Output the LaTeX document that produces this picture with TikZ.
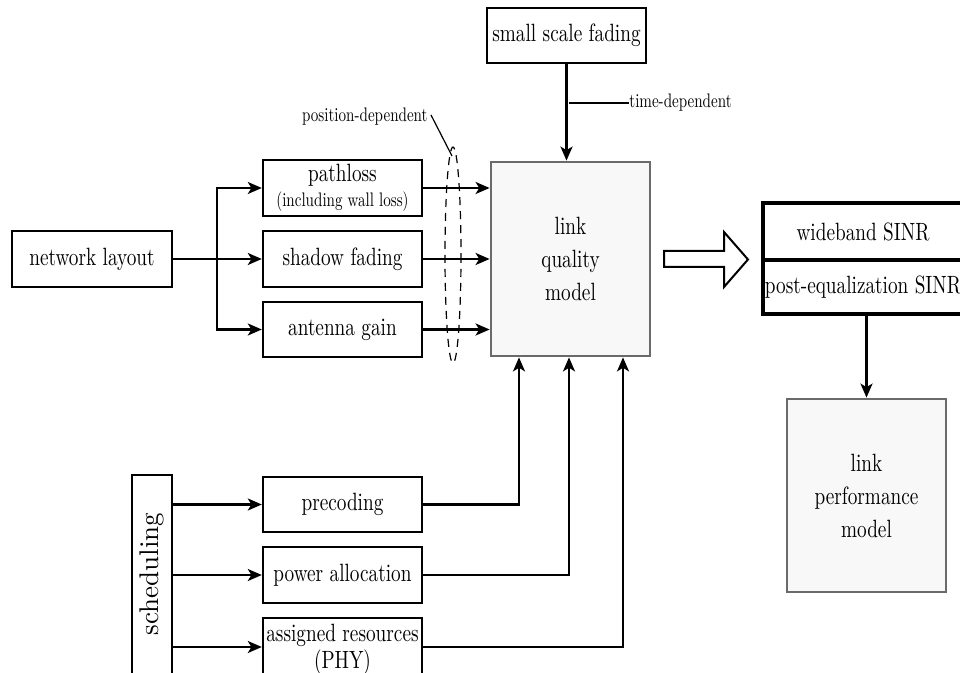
\documentclass[tikz,border=0pt]{standalone}
\usepackage{fontspec}
\setmainfont{lmroman10-regular.otf}[FakeStretch=0.77]
\newfontfamily\plainrm{lmroman10-regular.otf}
\usetikzlibrary{arrows.meta}
\definecolor{gborder}{HTML}{6A6A6A}
\definecolor{gfill}{HTML}{F8F8F8}
\begin{document}
\begin{tikzpicture}[x=0.5pt,y=-0.5pt,
  base/.style={inner sep=0pt, align=center, font=\fontsize{12.5}{14}\selectfont},
  box/.style={base, draw=black, line width=1.2pt, minimum width=79.5pt},
  gbox/.style={base, draw=gborder, fill=gfill, line width=1.4pt, minimum width=79.5pt, font=\fontsize{12.5}{16.5}\selectfont},
  tbox/.style={base, draw=black, line width=2.2pt, outer sep=0pt, minimum width=100pt},
  lbl/.style={inner sep=0pt, font=\fontsize{9.8}{11}\selectfont},
  conn/.style={line width=1.1pt},
  arr/.style={conn, -{Stealth[length=7pt,width=6pt,inset=1.8pt]}}
]
\useasboundingbox (0,0) rectangle (960,673);
\clip (0,0) rectangle (960,673);

% top
\node[box, minimum height=27.5pt] (small) at (566.5,35.5) {small scale fading};
\node[gbox, minimum height=97pt] (lqm) at (570.5,259) {link\\quality\\model};

% left column
\node[box, minimum width=80pt, minimum height=28pt] (net) at (92,259) {network layout};
\node[box, minimum height=28pt, font=\fontsize{12.5}{14}\selectfont] (path) at (342.5,188)
  {pathloss\\[-1.5pt]{\fontsize{9.8}{11}\selectfont (including wall loss)}};
\node[box, minimum height=28pt] (shadow) at (342.5,259) {shadow fading};
\node[box, minimum height=27.5pt] (ant) at (342.5,329.5) {antenna gain};

% right
\node[tbox, minimum height=28.5pt] (sinr1) at (863,231.5) {wideband SINR};
\node[tbox, minimum height=27pt, anchor=north] (sinr2) at (sinr1.south) {post-equalization SINR};
\node[gbox, minimum height=96.5pt] (lpm) at (866.5,495.5) {link\\performance\\model};

% bottom
\node[box, minimum width=20pt, minimum height=102pt] (sched) at (152,577) {};
\node[inner sep=0pt, rotate=90, font=\plainrm\fontsize{13.5}{15}\selectfont] (schedtxt) at (152,574) {scheduling};
\node[box, minimum height=27.5pt] (prec) at (342.5,504.5) {precoding};
\node[box, minimum height=28pt] (pow) at (342.5,575) {power allocation};
\node[box, minimum height=31pt, font=\fontsize{12.5}{13.5}\selectfont] (assign) at (342.5,649) {assigned resources\\(PHY)};

% labels
\node[lbl, anchor=west] (timelbl) at (629,103) {time-dependent};
\node[lbl, anchor=east] (poslbl) at (428,117) {position-dependent};

% dashed ellipse
\draw[line width=0.6pt, dash pattern=on 4pt off 3pt] (453,255) ellipse [x radius=8, y radius=108];

% connectors top
\draw[arr] (small.south) -- (lqm.north -| small.south);
\coordinate (tj) at (569,103);
\draw[line width=0.6pt] (tj) -- (timelbl.west);
\coordinate (pe) at (452,156);
\draw[line width=0.6pt] ([xshift=1.5pt,yshift=1pt]poslbl.east) -- (pe);

% left connectors
\coordinate (j) at (217,259);
\draw[conn] (net.east) -- (j);
\draw[arr] (j) |- (path.west);
\draw[arr] (j) -- (shadow.west);
\draw[arr] (j) |- (ant.west);
\draw[arr] (path.east) -- (lqm.west |- path.east);
\draw[arr] (shadow.east) -- (lqm.west |- shadow.east);
\draw[arr] (ant.east) -- (lqm.west |- ant.east);

% scheduling connectors
\draw[arr] (sched.east |- prec.west) -- (prec.west);
\draw[arr] (sched.east |- pow.west) -- (pow.west);
\coordinate (aw) at (assign.west |- 0,647);
\draw[arr] (sched.east |- aw) -- (aw);

\coordinate (q1) at (519,0);
\coordinate (q2) at (569,0);
\coordinate (q3) at (623,0);
\draw[arr] (prec.east) -| (q1 |- lqm.south);
\draw[arr] (pow.east) -| (q2 |- lqm.south);
\draw[arr] (aw -| assign.east) -| (q3 |- lqm.south);

% big hollow arrow
\draw[line width=1pt, fill=white] (664,251) -- (724,251) -- (724,232) -- (748,259.5)
  -- (724,287) -- (724,267) -- (664,267) -- cycle;

% SINR to link performance
\draw[arr] (lpm.north |- sinr2.south) -- (lpm.north);
\end{tikzpicture}
\end{document}
